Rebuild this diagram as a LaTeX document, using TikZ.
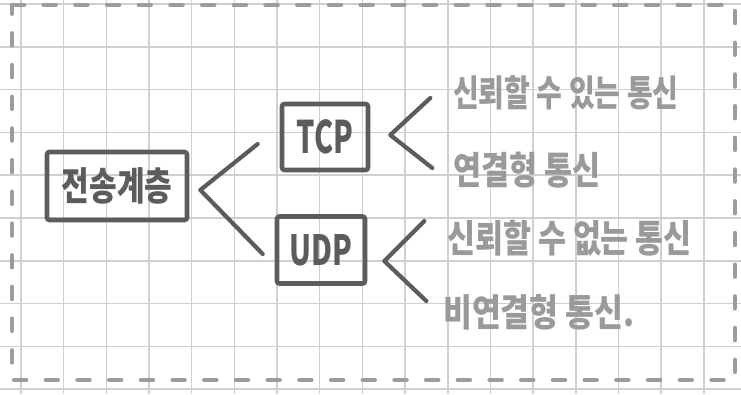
\documentclass[tikz,border=0pt]{standalone}
\usepackage{fontspec}
\setmainfont{Noto Sans CJK KR}
\usetikzlibrary{calc}
\definecolor{gridgray}{HTML}{CFCFCF}
\definecolor{framegray}{HTML}{9C9C9C}
\definecolor{inkdark}{HTML}{5C5C5C}
\definecolor{inklight}{HTML}{9A9A9A}
\tikzset{
  gridline/.style={draw=gridgray, line width=1.6pt},
  frameline/.style={draw=framegray, line width=4.5pt, line cap=round, dash pattern=on 12pt off 19.7pt},
  boxnode/.style={draw=inkdark, line width=4.6pt, rounded corners=2.5pt, text=inkdark, inner sep=0pt, align=center},
  bracket/.style={draw=inkdark, line width=4.2pt, line cap=round, line join=round},
  note/.style={text=inklight, anchor=west, inner sep=0pt, font=\bfseries},
}
\begin{document}
\begin{tikzpicture}[x=1pt, y=-1pt]
  \useasboundingbox (0,0) rectangle (741,394);
  \fill[white] (0,0) rectangle (741,394);
  % squared paper
  \foreach \i in {0,...,16} \draw[gridline] ({21+42.67*\i},0) -- ({21+42.67*\i},394);
  \foreach \j in {0,...,9} \draw[gridline] (0,{3.9+42.8*\j}) -- (741,{3.9+42.8*\j});
  % dashed frame
  \draw[frameline] (12,5) -- (735,5) -- (735,380) -- (12,380) -- cycle;

  % boxes
  \node[boxnode, minimum width=140pt, minimum height=68pt] (layer) at (117,186)
    {\fontsize{30}{33}\selectfont\bfseries\scalebox{1}[1.3]{전송계층}};
  \node[boxnode, minimum width=86pt, minimum height=66pt] (tcp) at (325,137)
    {\fontsize{32}{34}\selectfont\bfseries\scalebox{0.9}[1.4]{TCP}};
  \node[boxnode, minimum width=88pt, minimum height=67pt] (udp) at (321,250)
    {\fontsize{32}{34}\selectfont\bfseries\scalebox{0.9}[1.3]{UDP}};

  % branch from the layer box
  \coordinate (v0) at ($(layer.east)+(11,4)$);
  \coordinate (v0a) at ($(tcp.west)+(-22,7)$);
  \coordinate (v0b) at ($(udp.west)+(-12,4)$);
  \draw[bracket] (v0a) -- (v0) -- (v0b);

  % notes for TCP
  \coordinate (v1) at ($(tcp.east)+(20,-2)$);
  \coordinate (v1a) at ($(tcp.east)+(60,-39)$);
  \coordinate (v1b) at ($(tcp.east)+(62,31)$);
  \draw[bracket] (v1a) -- (v1) -- (v1b);
  \node[note] (t1) at (453,93) {\fontsize{28}{31}\selectfont\scalebox{1}[1.3]{신뢰할 수 있는 통신}};
  \node[note] (t2) at (453,170) {\fontsize{30.5}{33}\selectfont\scalebox{1}[1.25]{연결형 통신}};

  % notes for UDP
  \coordinate (v2) at ($(udp.east)+(17,11)$);
  \coordinate (v2a) at ($(udp.east)+(57,-29)$);
  \coordinate (v2b) at ($(udp.east)+(59,51)$);
  \draw[bracket] (v2a) -- (v2) -- (v2b);
  \node[note] (t3) at (447,238) {\fontsize{30.4}{33}\selectfont\scalebox{1}[1.25]{신뢰할 수 없는 통신}};
  \node[note] (t4) at (443,312) {\fontsize{31.4}{34}\selectfont\scalebox{1}[1.2]{비연결형 통신.}};
\end{tikzpicture}
\end{document}
